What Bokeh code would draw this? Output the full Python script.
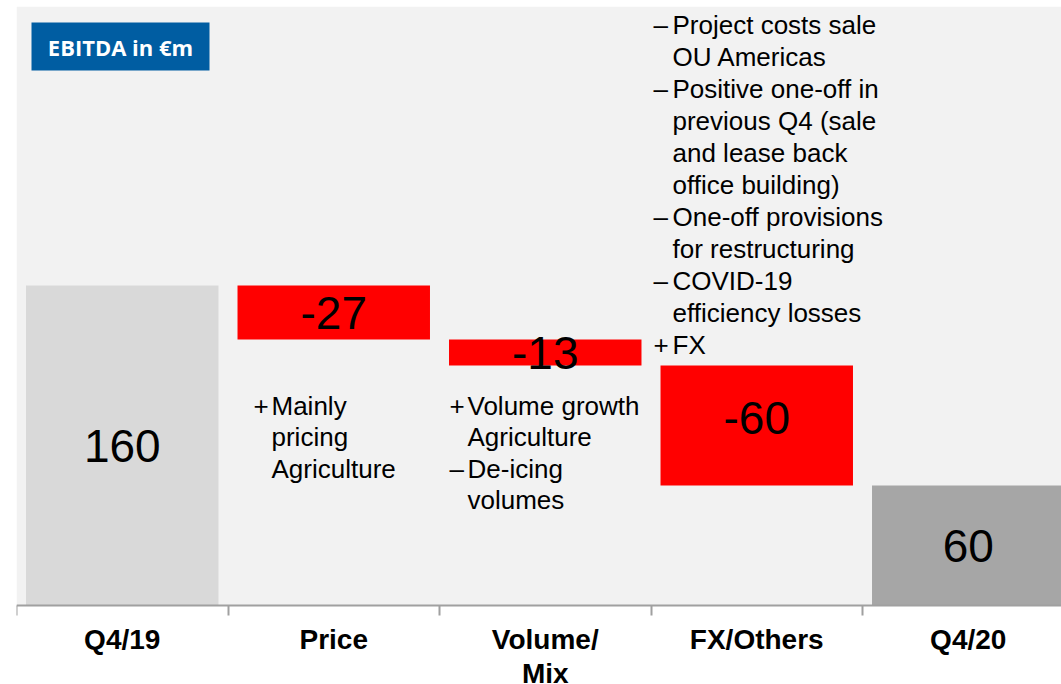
from bokeh.plotting import figure
from bokeh.models import Range1d, LinearAxis, FixedTicker, ColumnDataSource, BoxAnnotation
from bokeh.core.properties import value
from bokeh.embed import file_html
from bokeh.resources import INLINE

# ---------------- data ----------------
categories = ["Q4/19", "Price", "Volume/\nMix", "FX/Others", "Q4/20"]
values = [160, -27, -13, -60, 60]
kinds = ["total", "delta", "delta", "delta", "total"]
value_labels = ["160", "-27", "-13", "-60", "60"]

price_notes = [("+", ["Mainly", "pricing", "Agriculture"])]
volume_notes = [("+", ["Volume growth", "Agriculture"]),
                ("\u2013", ["De-icing", "volumes"])]
other_notes = [("\u2013", ["Project costs sale", "OU Americas"]),
               ("\u2013", ["Positive one-off in", "previous Q4 (sale",
                           "and lease back", "office building)"]),
               ("\u2013", ["One-off provisions", "for restructuring"]),
               ("\u2013", ["COVID-19", "efficiency losses"]),
               ("+", ["FX"])]

badge_text = "EBITDA in \u20acm"

# ---------------- styles ----------------
bar_colors = ["#d9d9d9", "#ff0000", "#ff0000", "#ff0000", "#a6a6a6"]
label_nudge = [0, 0, 0, 4, 0]   # small upward nudge of value labels (data units)
FONT = value("Liberation Sans")
CW = 211.5  # px per category

# waterfall geometry computed from values
xc, bottoms, tops, mids = [], [], [], []
run = 0
for i, (v, k) in enumerate(zip(values, kinds)):
    if k == "total":
        start, end = 0, v
        run = v
    else:
        start, end = run, run + v
        run = run + v
    xc.append(i + 0.5)
    bottoms.append(min(start, end))
    tops.append(max(start, end))
    mids.append((start + end) / 2 + label_nudge[i])

src = ColumnDataSource(dict(x=xc, bottom=bottoms, top=tops, mid=mids,
                            color=bar_colors, label=value_labels))

# frame spans down to the bottom of the page; value 0 sits at y = 605 px
p = figure(width=1061, height=684, output_backend="svg", toolbar_location=None,
           x_range=Range1d(0, 1045 / CW), y_range=Range1d(-39.5, 299.5),
           x_axis_type=None, y_axis_type=None,
           min_border_left=16, min_border_right=0, min_border_top=6,
           min_border_bottom=0)
p.background_fill_color = "white"
p.border_fill_color = "white"
p.outline_line_color = None
p.grid.visible = False

# grey plot area above the baseline
p.add_layout(BoxAnnotation(bottom=0, fill_color="#f2f2f2", fill_alpha=1.0,
                           line_color=None, level="underlay"))

p.vbar(x="x", bottom="bottom", top="top", width=0.91, fill_color="color",
       line_color=None, source=src)
p.text(x="x", y="mid", text="label", source=src, text_align="center",
       text_baseline="middle", text_font=FONT, text_font_size="46px",
       text_color="black")

# x axis at value 0: labels at category centres, tick marks at boundaries
axis = LinearAxis(ticker=FixedTicker(ticks=xc, minor_ticks=list(range(len(xc) + 1))),
                  fixed_location=0)
axis.major_label_overrides = {x: c for x, c in zip(xc, categories)}
axis.axis_line_color = "#a0a0a0"
axis.axis_line_width = 2
axis.major_tick_out = 0
axis.major_tick_in = 0
axis.major_tick_line_color = None
axis.minor_tick_out = 10
axis.minor_tick_in = 0
axis.minor_tick_line_color = "#a0a0a0"
axis.minor_tick_line_width = 2
axis.major_label_standoff = 8
axis.major_label_text_font = "Liberation Sans"
axis.major_label_text_font_style = "bold"
axis.major_label_text_font_size = "28px"
axis.major_label_text_line_height = 1.12
axis.major_label_text_color = "black"
p.add_layout(axis, "below")

# annotation texts
def add_notes(notes, bx, tx, y0, step):
    bxs, bys, btx = [], [], []
    lxs, lys, ltx = [], [], []
    row = 0
    for sign, lines in notes:
        bxs.append(bx); bys.append(y0 - row * step); btx.append(sign)
        for ln in lines:
            lxs.append(tx); lys.append(y0 - row * step); ltx.append(ln)
            row += 1
    p.text(x=bxs, y=bys, text=btx, text_align="left", text_baseline="middle",
           text_font=FONT, text_font_size="26px", text_color="black")
    p.text(x=lxs, y=lys, text=ltx, text_align="left", text_baseline="middle",
           text_font=FONT, text_font_size="26px", text_color="black")

add_notes(price_notes, (253 - 16) / CW, (271 - 16) / CW, 100, 15.75)
add_notes(volume_notes, (449 - 16) / CW, (467 - 16) / CW, 100, 15.75)
add_notes(other_notes, (653 - 16) / CW, (672 - 16) / CW, 290.5, 16)

# badge
p.quad(left=[(31 - 16) / CW], right=[(209 - 16) / CW],
       top=[(605 - 22) / 2], bottom=[(605 - 70) / 2],
       fill_color="#005da2", line_color=None)
p.text(x=[(120 - 16) / CW], y=[(605 - 46) / 2], text=[badge_text],
       text_align="center", text_baseline="middle", text_font=value("Open Sans"),
       text_font_style="bold", text_font_size="22px", text_color="white")

open("out.html", "w").write(file_html(p, INLINE))
